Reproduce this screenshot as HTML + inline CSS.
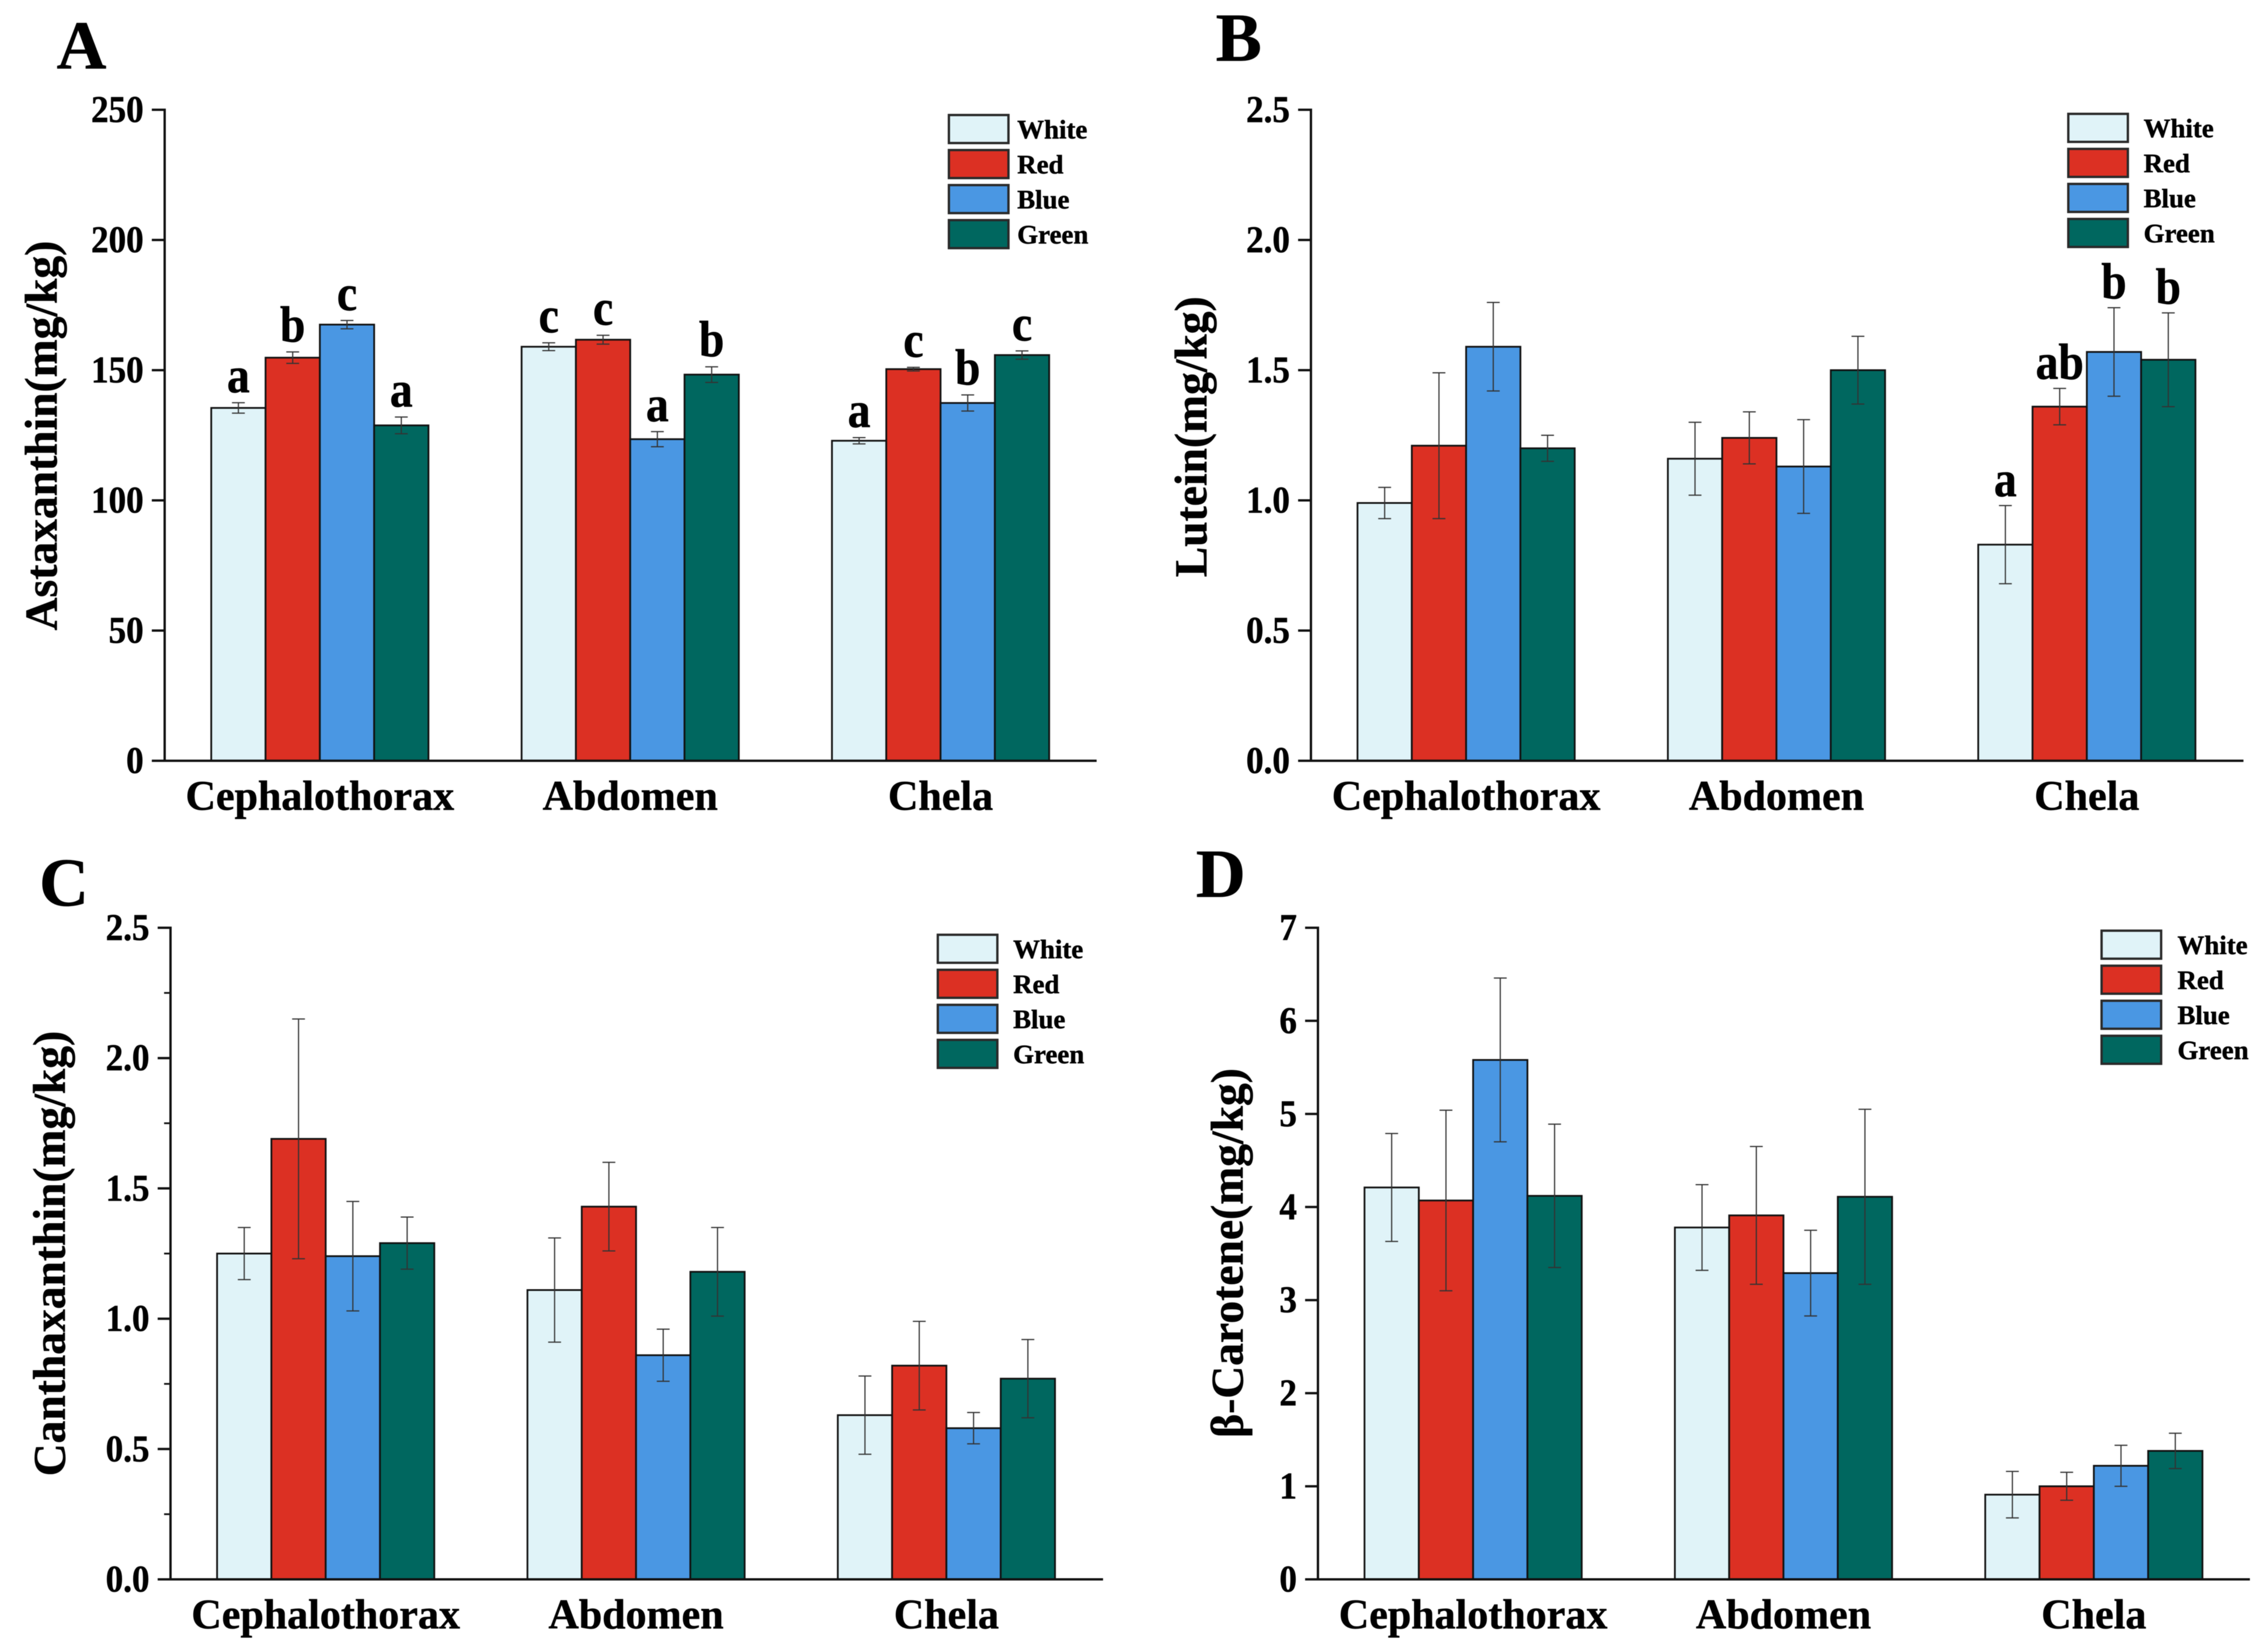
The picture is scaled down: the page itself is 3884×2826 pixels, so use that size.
<!DOCTYPE html>
<html lang="en">
<head>
<meta charset="utf-8">
<title>Carotenoid content by tissue and light colour</title>
<style>
html,body{margin:0;padding:0;background:#fff;}
svg{display:block;filter:blur(0.6px);}
text{font-family:"Liberation Serif","DejaVu Serif",serif;font-weight:bold;fill:#000;stroke:#000;stroke-width:0.7px;}
</style>
</head>
<body>
<svg id="figure" xmlns="http://www.w3.org/2000/svg" width="3884" height="2826" viewBox="0 0 3884 2826"></svg>
<script>
// Shared categories and series
const categories = ['Cephalothorax', 'Abdomen', 'Chela'];
const seriesNames = ['White', 'Red', 'Blue', 'Green'];

// Panel A: Astaxanthin (rows = categories, columns = series)
const astaxanthinValues = [[135.5, 154.8, 167.5, 128.8], [159, 161.7, 123.5, 148.3], [122.9, 150.4, 137.4, 155.8]];
const astaxanthinErrors = [[2, 2.2, 1.6, 3.2], [1.5, 1.7, 2.9, 3], [1.2, 0.7, 3.1, 1.6]];
const astaxanthinLetters = [['a', 'b', 'c', 'a'], ['c', 'c', 'a', 'b'], ['a', 'c', 'b', 'c']];
const astaxanthinTicks = ['0', '50', '100', '150', '200', '250'];

// Panel B: Lutein
const luteinValues = [[0.99, 1.21, 1.59, 1.20], [1.16, 1.24, 1.13, 1.50], [0.83, 1.36, 1.57, 1.54]];
const luteinErrors = [[0.06, 0.28, 0.17, 0.05], [0.14, 0.10, 0.18, 0.13], [0.15, 0.07, 0.17, 0.18]];
const luteinLetters = [['', '', '', ''], ['', '', '', ''], ['a', 'ab', 'b', 'b']];
const luteinTicks = ['0.0', '0.5', '1.0', '1.5', '2.0', '2.5'];

// Panel C: Canthaxanthin
const canthaxanthinValues = [[1.25, 1.69, 1.24, 1.29], [1.11, 1.43, 0.86, 1.18], [0.63, 0.82, 0.58, 0.77]];
const canthaxanthinErrors = [[0.10, 0.46, 0.21, 0.10], [0.20, 0.17, 0.10, 0.17], [0.15, 0.17, 0.06, 0.15]];
const canthaxanthinLetters = [['', '', '', ''], ['', '', '', ''], ['', '', '', '']];
const canthaxanthinTicks = ['0.0', '0.5', '1.0', '1.5', '2.0', '2.5'];

// Panel D: beta-Carotene
const caroteneValues = [[4.21, 4.07, 5.58, 4.12], [3.78, 3.91, 3.29, 4.11], [0.91, 1.00, 1.22, 1.38]];
const caroteneErrors = [[0.58, 0.97, 0.88, 0.77], [0.46, 0.74, 0.46, 0.94], [0.25, 0.15, 0.22, 0.19]];
const caroteneLetters = [['', '', '', ''], ['', '', '', ''], ['', '', '', '']];
const caroteneTicks = ['0', '1', '2', '3', '4', '5', '6', '7'];

const seriesFill = ['#E0F3F8', '#DC3023', '#4A97E3', '#00675F'];
const NS = 'http://www.w3.org/2000/svg';
const figure = document.getElementById('figure');

function make(parent, tag, attrs, content) {
  const el = document.createElementNS(NS, tag);
  for (const k in attrs) el.setAttribute(k, attrs[k]);
  if (content !== undefined) el.textContent = content;
  parent.appendChild(el);
  return el;
}

function drawPanel(p) {
  let el;
  const g = make(figure, 'g', {});
  
  

  const maxVal = parseFloat(p.ticks[p.ticks.length - 1]);
  const yOf = v => p.bottom - (v / maxVal) * (p.bottom - p.top);
  const band = 531.5;
  const barW = 93;
  const xOf = (c, s) => p.left + band * (c + 0.5) + (s - 2) * barW;

  // panel letter
  el = make(g, 'text', {x: p.letterX, y: p.letterY, 'font-size': 118}, p.id);
  
  

  // bars
  categories.forEach((cat, c) => {
    seriesNames.forEach((name, s) => {
      const v = p.values[c][s];
      const b = make(g, 'rect', {x: xOf(c, s), y: yOf(v), width: barW, height: p.bottom - yOf(v), fill: seriesFill[s], stroke: '#111', 'stroke-width': 3});
      
      
    });
  });

  // error bars and significance letters
  categories.forEach((cat, c) => {
    seriesNames.forEach((name, s) => {
      const v = p.values[c][s], e = p.errors[c][s];
      const cx = xOf(c, s) + barW / 2;
      const hi = yOf(v + e), lo = yOf(v - e);
      const path = make(g, 'path', {d: 'M' + (cx - 11) + ' ' + hi + 'H' + (cx + 11) + 'M' + cx + ' ' + hi + 'V' + lo + 'M' + (cx - 11) + ' ' + lo + 'H' + (cx + 11), fill: 'none', stroke: '#333', 'stroke-width': 2});
      
      
      const letter = p.letters[c][s];
      if (letter) {
        const t = make(g, 'text', {transform: 'translate(' + cx + ' ' + (hi - p.letterGap) + ') scale(1 1.12)', 'font-size': 78, 'text-anchor': 'middle'}, letter);
        
        
      }
    });
  });

  // y axis
  el = make(g, 'line', {x1: p.left, x2: p.left, y1: p.top - 2, y2: p.bottom + 2, stroke: '#111', 'stroke-width': 4});
  
  
  el = make(g, 'line', {x1: p.left - 22, x2: p.right, y1: p.bottom, y2: p.bottom, stroke: '#111', 'stroke-width': 4});
  
  

  p.ticks.forEach(label => {
    const y = yOf(parseFloat(label));
    const tick = make(g, 'line', {x1: p.left - 22, x2: p.left, y1: y, y2: y, stroke: '#111', 'stroke-width': 4});
    
    
    const t = make(g, 'text', {transform: 'translate(' + (p.left - 36) + ' ' + (y + 21) + ') scale(1 1.07)', 'font-size': 60, 'text-anchor': 'end'}, label);
    
    
  });

  if (p.minorStep) {
    for (let v = p.minorStep; v < maxVal; v += p.minorStep * 2) {
      const minor = make(g, 'line', {x1: p.left - 11, x2: p.left, y1: yOf(v), y2: yOf(v), stroke: '#111', 'stroke-width': 3});
      
      
    }
  }

  categories.forEach((cat, c) => {
    const t = make(g, 'text', {x: p.left + band * (c + 0.5), y: p.bottom + 84, 'font-size': 72, 'text-anchor': 'middle'}, cat);
    
    
  });

  // y title
  el = make(g, 'text', {transform: 'translate(' + p.titleX + ' ' + p.titleY + ') rotate(-90)', 'font-size': 78, 'text-anchor': 'middle'}, p.title);
  
  

  // legend
  const lg = make(g, 'g', {});
  
  
  seriesNames.forEach((name, s) => {
    const top = p.legendY + s * 60;
    const sw = make(lg, 'rect', {x: p.legendX + 2, y: top + 2, width: 102, height: 48, fill: seriesFill[s], stroke: '#2a2a2a', 'stroke-width': 4});
    
    
    const t = make(lg, 'text', {x: p.legendTextX, y: top + 42, 'font-size': 46}, name);
    
    
  });
}

drawPanel({id: 'A', left: 282, right: 1878, top: 188, bottom: 1303, title: 'Astaxanthin(mg/kg)', titleX: 97, titleY: 746,
  letterX: 97, letterY: 117, legendX: 1623, legendY: 195, legendTextX: 1742, letterGap: 18, minorStep: 0,
  values: astaxanthinValues, errors: astaxanthinErrors, letters: astaxanthinLetters, ticks: astaxanthinTicks});
drawPanel({id: 'B', left: 2245, right: 3842, top: 188, bottom: 1303, title: 'Lutein(mg/kg)', titleX: 2066, titleY: 748,
  letterX: 2082, letterY: 104, legendX: 3540, legendY: 193, legendTextX: 3671, letterGap: 16, minorStep: 0,
  values: luteinValues, errors: luteinErrors, letters: luteinLetters, ticks: luteinTicks});
drawPanel({id: 'C', left: 292, right: 1889, top: 1589, bottom: 2705, title: 'Canthaxanthin(mg/kg)', titleX: 111, titleY: 2147,
  letterX: 67, letterY: 1551, legendX: 1604, legendY: 1599, legendTextX: 1735, letterGap: 16, minorStep: 0.25,
  values: canthaxanthinValues, errors: canthaxanthinErrors, letters: canthaxanthinLetters, ticks: canthaxanthinTicks});
drawPanel({id: 'D', left: 2257, right: 3853, top: 1589, bottom: 2705, title: 'β-Carotene(mg/kg)', titleX: 2128, titleY: 2146,
  letterX: 2048, letterY: 1536, legendX: 3597, legendY: 1592, legendTextX: 3729, letterGap: 16, minorStep: 0,
  values: caroteneValues, errors: caroteneErrors, letters: caroteneLetters, ticks: caroteneTicks});
</script>
</body>
</html>
